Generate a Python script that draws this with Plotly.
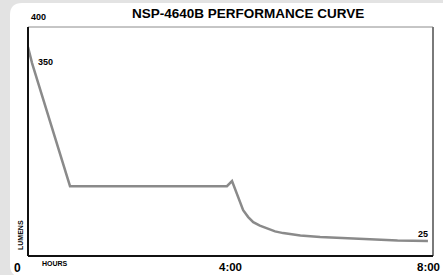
import plotly.graph_objects as go

hours = [0.0, 0.08, 0.83, 3.93, 4.03, 4.08, 4.13, 4.19, 4.25, 4.35, 4.45, 4.58, 4.72, 4.88, 5.04, 5.38, 5.77, 6.2, 6.7, 7.3, 7.9]
lumens = [365, 337, 122, 122, 131, 120, 107, 93, 80, 68, 59, 53, 48, 43, 40, 36, 33, 31, 29, 27, 26]

x_tick_vals = [0, 4, 8]
x_tick_text = ["0", "4:00", "8:00"]
title = "NSP-4640B PERFORMANCE CURVE"

W, H = 443, 275
L, R, T, B = 28, 10, 27, 19
pw, ph = W - L - R, H - T - B

def px(x):
    return (x - L) / pw

def py(y):
    return (H - B - y) / ph

fig = go.Figure()
fig.add_trace(go.Scatter(x=hours, y=lumens, mode="lines",
                         line=dict(color="#8a8a8a", width=2.5, shape="linear"),
                         hoverinfo="skip", showlegend=False))

font = "Liberation Sans, Arial, sans-serif"
shapes = []
x0, x1, y0, y1, r = px(10), px(460), py(3), py(277), 12
rx, ry = r / pw, r / ph
shapes.append(dict(type="path", xref="paper", yref="paper", layer="below",
                   path=f"M {x1},{y0} L {x0+rx},{y0} Q {x0},{y0} {x0},{y0-ry} L {x0},{y1+ry} Q {x0},{y1} {x0+rx},{y1} L {x1},{y1} Z",
                   fillcolor="white", line=dict(width=0)))
shapes.append(dict(type="line", xref="paper", yref="paper", x0=0, x1=1, y0=1, y1=1, line=dict(color="#8c8c8c", width=1)))
shapes.append(dict(type="line", xref="paper", yref="paper", x0=1, x1=1, y0=0, y1=1, line=dict(color="#7a7a7a", width=2)))
shapes.append(dict(type="line", xref="paper", yref="paper", x0=0, x1=0, y0=0, y1=1, line=dict(color="#111111", width=2)))
shapes.append(dict(type="line", xref="paper", yref="paper", x0=0, x1=1, y0=0, y1=0, line=dict(color="#111111", width=2)))

ann = []
def text(x, y, s, size, **kw):
    d = dict(xref="paper", yref="paper", x=px(x), y=py(y), text=s, showarrow=False,
             font=dict(family=font, size=size, color="#000000"), xanchor="center", yanchor="middle")
    d.update(kw)
    ann.append(d)

text(248, 13, "<b>" + title + "</b>", 13.5)
text(38, 17, "<b>400</b>", 9)
text(45, 62, "<b>350</b>", 9)
text(423, 234, "<b>" + str(lumens[-1] - 1) + "</b>", 9)
text(55, 263, "<b>HOURS</b>", 7)
text(20, 235, "<b>LUMENS</b>", 7, textangle=-90)
text(17, 268, "<b>" + x_tick_text[0] + "</b>", 12)
ann.append(dict(xref="x", yref="paper", x=x_tick_vals[1], y=py(267), text="<b>" + x_tick_text[1] + "</b>",
                showarrow=False, font=dict(family=font, size=11.5, color="#000000"),
                xanchor="center", yanchor="middle"))
ann.append(dict(xref="x", yref="paper", x=x_tick_vals[2], y=py(267), text="<b>" + x_tick_text[2] + "</b>",
                showarrow=False, font=dict(family=font, size=11.5, color="#000000"),
                xanchor="right", xshift=9, yanchor="middle"))

fig.update_layout(
    width=W, height=H, margin=dict(l=L, r=R, t=T, b=B),
    paper_bgcolor="#e3e3e3", plot_bgcolor="rgba(0,0,0,0)",
    xaxis=dict(range=[0, 8], showgrid=False, zeroline=False, showticklabels=False, fixedrange=True),
    yaxis=dict(range=[0, 400], showgrid=False, zeroline=False, showticklabels=False, fixedrange=True),
    shapes=shapes, annotations=ann,
)
fig.write_html("out.html", config={"displayModeBar": False},
               post_script="document.body.style.margin='0';document.body.style.overflow='hidden';")
